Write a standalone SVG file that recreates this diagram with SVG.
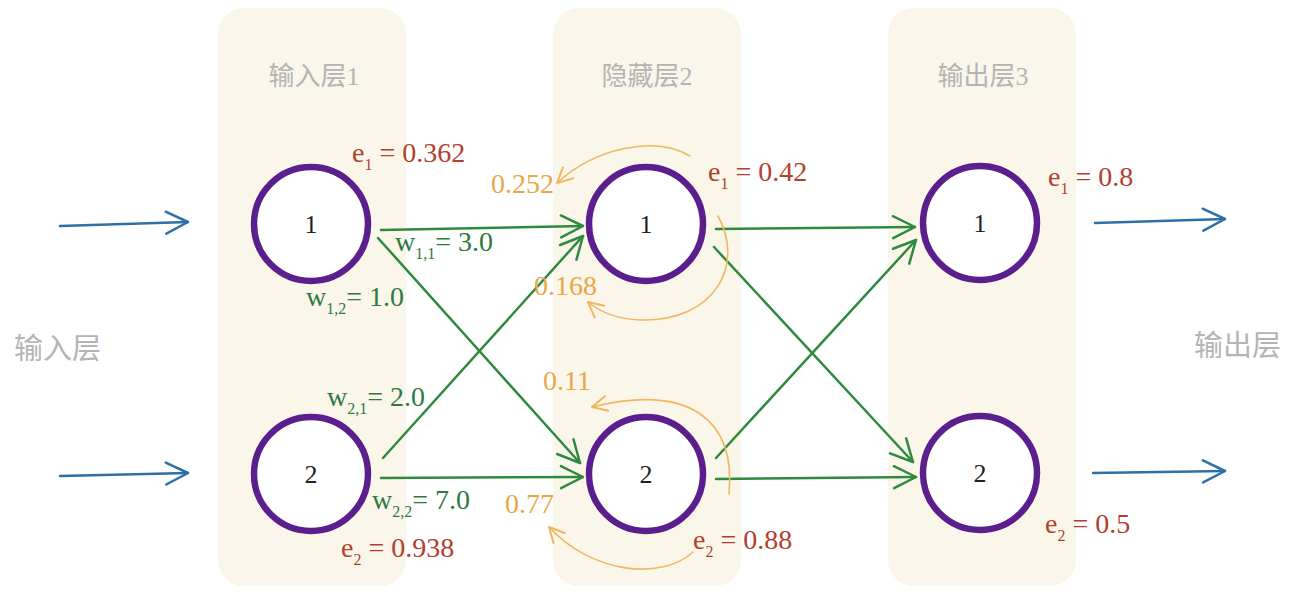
<svg xmlns="http://www.w3.org/2000/svg" width="1314" height="602" viewBox="0 0 1314 602">
<defs>
<style>
.panel{fill:#faf7ea}
.title{font-family:"Liberation Serif","Noto Sans CJK SC",serif;font-size:26px;fill:#b4b4b4;text-anchor:middle}
.side{font-family:"Liberation Serif","Noto Sans CJK SC",serif;font-size:29px;fill:#b4b4b4}
.node{fill:#ffffff;stroke:#5a1f8c;stroke-width:6.5}
.num{font-family:"Liberation Serif",serif;font-size:26px;fill:#222;text-anchor:middle}
.g{stroke:#2f8a3f;stroke-width:2.5;fill:none;stroke-linecap:round}
.b{stroke:#2f6fa8;stroke-width:2.5;fill:none;stroke-linecap:round}
.o{stroke:#f0b660;stroke-width:1.6;fill:none;stroke-linecap:round}
.wt{font-family:"Liberation Serif",serif;font-size:28px;fill:#2e7a3e}
.et{font-family:"Liberation Serif",serif;font-size:28px;fill:#b3402e}
.ot{font-family:"Liberation Serif",serif;font-size:28px;fill:#e9a847}
.sub{font-size:16px}
</style>
<marker id="ag" markerUnits="userSpaceOnUse" markerWidth="30" markerHeight="30" refX="24" refY="12" orient="auto" viewBox="0 0 30 24">
<path d="M2,1 L24,12 L2,23" fill="none" stroke="#2f8a3f" stroke-width="2.5" stroke-linecap="round" stroke-linejoin="round"/>
</marker>
<marker id="ab" markerUnits="userSpaceOnUse" markerWidth="30" markerHeight="30" refX="24" refY="12" orient="auto" viewBox="0 0 30 24">
<path d="M2,1 L24,12 L2,23" fill="none" stroke="#2f6fa8" stroke-width="2.5" stroke-linecap="round" stroke-linejoin="round"/>
</marker>
<marker id="ao" markerUnits="userSpaceOnUse" markerWidth="20" markerHeight="20" refX="13" refY="7" orient="auto" viewBox="0 0 16 14">
<path d="M1,1 L13,7 L1,13" fill="none" stroke="#f0b660" stroke-width="1.6" stroke-linecap="round" stroke-linejoin="round"/>
</marker>
</defs>
<rect width="1314" height="602" fill="#ffffff"/>
<g id="panels">
<rect class="panel" x="218" y="8" width="188" height="578" rx="26"/>
<rect class="panel" x="553" y="8" width="188" height="578" rx="26"/>
<rect class="panel" x="888" y="8" width="188" height="578" rx="26"/>
<text class="title" x="314" y="85">输入层1</text>
<text class="title" x="647" y="85">隐藏层2</text>
<text class="title" x="983" y="85">输出层3</text>
<text class="side" x="14" y="359">输入层</text>
<text class="side" x="1194" y="356">输出层</text>
</g>
<g id="connectors">
<path class="b" d="M60,226 L188,222" marker-end="url(#ab)"/>
<path class="b" d="M60,476 L188,473" marker-end="url(#ab)"/>
<path class="b" d="M1095,223 L1225,219" marker-end="url(#ab)"/>
<path class="b" d="M1093,473 L1225,471" marker-end="url(#ab)"/>
<path class="g" d="M381,230 L583,226" marker-end="url(#ag)"/>
<path class="g" d="M378,238 L580,463" marker-end="url(#ag)"/>
<path class="g" d="M383,458 L583,236" marker-end="url(#ag)"/>
<path class="g" d="M381,478 L583,477" marker-end="url(#ag)"/>
<path class="g" d="M716,229 L915,227" marker-end="url(#ag)"/>
<path class="g" d="M714,247 L913,462" marker-end="url(#ag)"/>
<path class="g" d="M716,458 L916,240" marker-end="url(#ag)"/>
<path class="g" d="M716,479 L916,477" marker-end="url(#ag)"/>
<path class="o" d="M690,156 C655,135 595,148 557,183" marker-end="url(#ao)"/>
<path class="o" d="M718,216 C745,265 715,322 640,320 C615,319 600,312 588,302" marker-end="url(#ao)"/>
<path class="o" d="M729,494 C736,420 690,383 592,407" marker-end="url(#ao)"/>
<path class="o" d="M693,552 C660,582 590,572 549,527" marker-end="url(#ao)"/>
</g>
<g id="n_in1"><circle class="node" cx="311" cy="224" r="57"/><text class="num" x="311" y="233">1</text></g>
<g id="n_in2"><circle class="node" cx="311" cy="474" r="57"/><text class="num" x="311" y="483">2</text></g>
<g id="n_h1"><circle class="node" cx="646" cy="224" r="57"/><text class="num" x="646" y="233">1</text></g>
<g id="n_h2"><circle class="node" cx="646" cy="474" r="57"/><text class="num" x="646" y="483">2</text></g>
<g id="n_o1"><circle class="node" cx="980" cy="223" r="57"/><text class="num" x="980" y="232">1</text></g>
<g id="n_o2"><circle class="node" cx="980" cy="473" r="57"/><text class="num" x="980" y="482">2</text></g>
<g id="labels">
<text class="wt" x="395" y="251">w<tspan class="sub" dy="8">1,1</tspan><tspan dy="-8">= 3.0</tspan></text>
<text class="wt" x="306" y="306">w<tspan class="sub" dy="8">1,2</tspan><tspan dy="-8">= 1.0</tspan></text>
<text class="wt" x="327" y="406">w<tspan class="sub" dy="8">2,1</tspan><tspan dy="-8">= 2.0</tspan></text>
<text class="wt" x="372" y="509">w<tspan class="sub" dy="8">2,2</tspan><tspan dy="-8">= 7.0</tspan></text>
<text class="et" x="352" y="162">e<tspan class="sub" dy="8">1</tspan><tspan dy="-8"> = 0.362</tspan></text>
<text class="et" x="341" y="557">e<tspan class="sub" dy="8">2</tspan><tspan dy="-8"> = 0.938</tspan></text>
<text class="et" x="708" y="181">e<tspan class="sub" dy="8">1</tspan><tspan dy="-8"> = 0.42</tspan></text>
<text class="et" x="693" y="549">e<tspan class="sub" dy="8">2</tspan><tspan dy="-8"> = 0.88</tspan></text>
<text class="et" x="1048" y="186">e<tspan class="sub" dy="8">1</tspan><tspan dy="-8"> = 0.8</tspan></text>
<text class="et" x="1045" y="533">e<tspan class="sub" dy="8">2</tspan><tspan dy="-8"> = 0.5</tspan></text>
<text class="ot" x="491" y="193">0.252</text>
<text class="ot" x="534" y="295">0.168</text>
<text class="ot" x="543" y="390">0.11</text>
<text class="ot" x="505" y="513">0.77</text>
</g>
</svg>
